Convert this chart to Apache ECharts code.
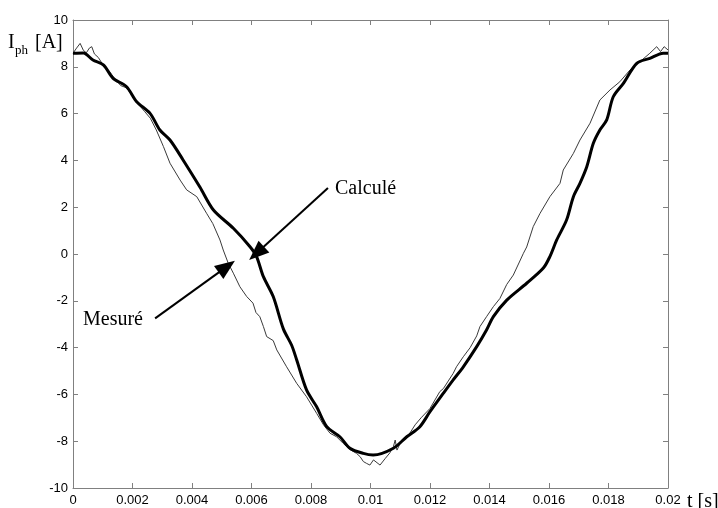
<!DOCTYPE html>
<html>
<head>
<meta charset="utf-8">
<script src="https://cdn.jsdelivr.net/npm/echarts@6/dist/echarts.min.js"></script>
<style>
  html, body { margin: 0; padding: 0; background: #fff; }
  #chart { width: 718px; height: 508px; }
</style>
</head>
<body>
<div id="chart"></div>
<script>
// courbe calculée (trait épais)
var tCalc = [0, 0.00035, 0.00067, 0.00102, 0.00134, 0.0018, 0.00214, 0.00259, 0.00292, 0.00326,
  0.0037, 0.00427, 0.00472, 0.00539, 0.00595, 0.00617, 0.0064, 0.00673, 0.00707, 0.00735,
  0.00752, 0.00785, 0.00819, 0.00853, 0.00897, 0.00931, 0.00976, 0.01009, 0.01077, 0.01122,
  0.01166, 0.012, 0.01245, 0.01278, 0.01312, 0.01357, 0.0139, 0.01413, 0.01458, 0.01525,
  0.01581, 0.01603, 0.01626, 0.01659, 0.01682, 0.01704, 0.01727, 0.01749, 0.01771, 0.01794,
  0.01816, 0.0185, 0.01895, 0.01939, 0.01984, 0.02];
var iCalc = [8.58, 8.59, 8.29, 8.08, 7.52, 7.15, 6.51, 6.01, 5.3, 4.87,
  4.02, 2.85, 1.88, 1.1, 0.31, -0.11, -0.97, -1.82, -3.2, -3.9,
  -4.53, -5.81, -6.53, -7.38, -7.81, -8.3, -8.52, -8.59, -8.3, -7.81,
  -7.38, -6.74, -5.95, -5.38, -4.82, -3.96, -3.25, -2.68, -1.97, -1.25,
  -0.6, -0.11, 0.6, 1.45, 2.45, 3.02, 3.73, 4.73, 5.3, 5.73,
  6.72, 7.29, 8.15, 8.36, 8.58, 8.58];

// courbe mesurée (trait fin)
var tMes = [0, 0.00012, 0.00024, 0.00035, 0.00045, 0.00055, 0.00063, 0.00072, 0.00085, 0.001,
  0.0012, 0.0014, 0.0016, 0.0018, 0.002, 0.0022, 0.0024, 0.0026, 0.0028, 0.00304,
  0.00326, 0.0036, 0.00382, 0.00416, 0.00449, 0.0047, 0.00494, 0.00505, 0.00522, 0.00539,
  0.00561, 0.00584, 0.00605, 0.00615, 0.00628, 0.0064, 0.00651, 0.00673, 0.00685, 0.00718,
  0.00752, 0.00785, 0.00819, 0.00842, 0.00864, 0.00886, 0.00908, 0.0093, 0.00953, 0.00965,
  0.00976, 0.00987, 0.00998, 0.0101, 0.01032, 0.0105, 0.01065, 0.01077, 0.01083, 0.01089,
  0.01105, 0.0113, 0.0115, 0.0117, 0.012, 0.01233, 0.01245, 0.01278, 0.01289, 0.01312,
  0.01335, 0.01357, 0.01368, 0.0139, 0.01413, 0.01435, 0.01458, 0.0148, 0.01502, 0.01514,
  0.01525, 0.01547, 0.0157, 0.01603, 0.01637, 0.01648, 0.01682, 0.01704, 0.01738, 0.01771,
  0.01805, 0.01838, 0.01872, 0.01906, 0.01939, 0.01962, 0.01975, 0.01987, 0.02];
var iMes = [8.58, 8.8, 9.0, 8.7, 8.6, 8.8, 8.86, 8.55, 8.4, 8.1,
  7.85, 7.5, 7.2, 7.1, 6.75, 6.4, 6.1, 5.8, 5.3, 4.59,
  3.88, 3.16, 2.74, 2.45, 1.74, 1.3, 0.6, 0.17, -0.4, -0.82,
  -1.4, -1.82, -2.1, -2.5, -2.68, -3.1, -3.53, -3.7, -4.1, -4.82,
  -5.53, -6.1, -6.81, -7.3, -7.66, -7.81, -8.09, -8.35, -8.52, -8.66,
  -8.87, -8.95, -9.02, -8.8, -9.02, -8.73, -8.5, -8.23, -7.95, -8.38,
  -7.95, -7.7, -7.3, -7.0, -6.6, -5.88, -5.75, -5.1, -4.82, -4.39,
  -4.0, -3.5, -3.1, -2.68, -2.25, -1.9, -1.3, -0.9, -0.3, 0.03,
  0.3, 1.17, 1.74, 2.45, 3.02, 3.59, 4.3, 4.87, 5.59, 6.58,
  7.01, 7.36, 7.86, 8.22, 8.58, 8.86, 8.65, 8.86, 8.72];

// flèches d'annotation [t, I] : départ -> pointe
var arrowCalc = [[0.00857, 2.82], [0.00617, 0.03]];
var arrowMes = [[0.00276, -2.75], [0.00517, -0.54]];

function zip(t, v) {
    var out = [];
    for (var i = 0; i < t.length; i++) out.push([t[i], v[i]]);
    return out;
}

var axisGray = '#808080';
var serif = '"Liberation Serif", "Times New Roman", serif';
var sans = '"Liberation Sans", Arial, sans-serif';

function boxAxis(pos, extra) {
    var a = {
        type: 'value', position: pos,
        axisLine: { show: true, onZero: false, lineStyle: { color: axisGray, width: 1 } },
        axisTick: { show: true, inside: true, length: 5, lineStyle: { color: axisGray } },
        axisLabel: { show: false },
        splitLine: { show: false }
    };
    for (var k in extra) a[k] = extra[k];
    return a;
}

var chart = echarts.init(document.getElementById('chart'));

var option = {
    backgroundColor: '#fff',
    animation: false,
    grid: { left: 73, right: 50, top: 20, bottom: 20, containLabel: false },
    xAxis: [
        boxAxis('bottom', {
            min: 0, max: 0.02, interval: 0.002,
            axisLabel: {
                color: '#000', fontSize: 13, fontFamily: sans, margin: 6,
                formatter: function (v) { return String(+v.toFixed(3)); }
            }
        }),
        boxAxis('top', { min: 0, max: 0.02, interval: 0.002 })
    ],
    yAxis: [
        boxAxis('left', {
            min: -10, max: 10, interval: 2,
            axisLabel: { color: '#000', fontSize: 13, fontFamily: sans, margin: 5 }
        }),
        boxAxis('right', { min: -10, max: 10, interval: 2 })
    ],
    series: [
        {
            name: 'Mesuré',
            type: 'line',
            data: zip(tMes, iMes),
            showSymbol: false,
            lineStyle: { color: '#3a3a3a', width: 1 },
            z: 2
        },
        {
            name: 'Calculé',
            type: 'line',
            data: zip(tCalc, iCalc),
            showSymbol: false,
            smooth: 0.3,
            lineStyle: { color: '#000', width: 3 },
            z: 3,
            markLine: {
                silent: true,
                symbol: ['none', 'triangle'],
                symbolSize: [16, 20],
                label: { show: false },
                lineStyle: { color: '#000', width: 2, type: 'solid' },
                data: [
                    [{ coord: arrowCalc[0] }, { coord: arrowCalc[1] }],
                    [{ coord: arrowMes[0] }, { coord: arrowMes[1] }]
                ]
            }
        }
    ],
    graphic: [
        { type: 'text', left: 8, top: 33, style: { text: 'I', font: '20px ' + serif, fill: '#000' } },
        { type: 'text', left: 15, top: 44, style: { text: 'ph', font: '13px ' + serif, fill: '#000' } },
        { type: 'text', left: 35, top: 33, style: { text: '[A]', font: '20px ' + serif, fill: '#000' } },
        { type: 'text', left: 687, top: 492, style: { text: 't [s]', font: '20px ' + serif, fill: '#000' } },
        { type: 'text', left: 335, top: 179, style: { text: 'Calculé', font: '20px ' + serif, fill: '#000' } },
        { type: 'text', left: 83, top: 310, style: { text: 'Mesuré', font: '20px ' + serif, fill: '#000' } }
    ]
};

chart.setOption(option);
</script>
</body>
</html>
